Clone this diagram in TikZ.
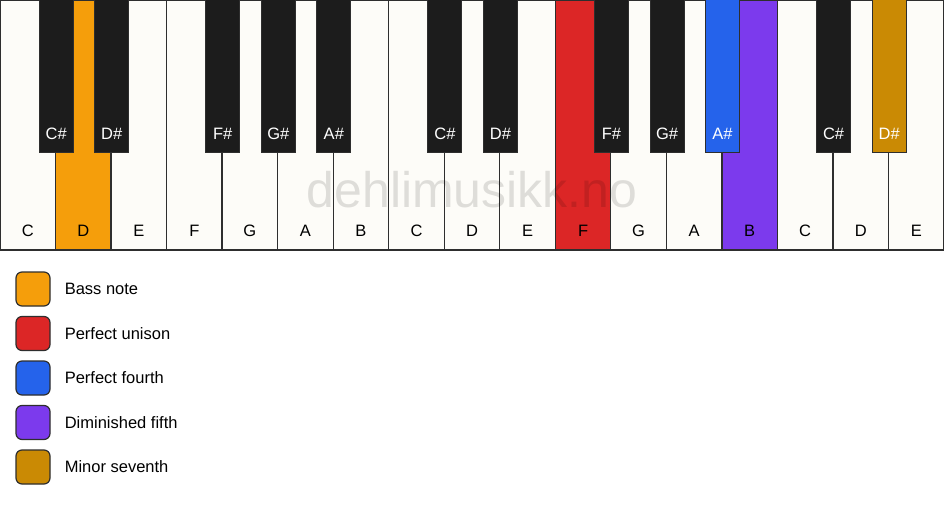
\documentclass[tikz,border=0pt]{standalone}
\usepackage{fontspec}
\setmainfont{Liberation Sans}
\usetikzlibrary{positioning}
\definecolor{ivory}{HTML}{FDFCF8}
\definecolor{ebony}{HTML}{1C1C1C}
\definecolor{keyline}{HTML}{2E2E2E}
\definecolor{bassnote}{HTML}{F59E0B}
\definecolor{unison}{HTML}{DC2626}
\definecolor{fourth}{HTML}{2563EB}
\definecolor{dimfifth}{HTML}{7C3AED}
\definecolor{minorsev}{HTML}{CA8A04}
\begin{document}
\begin{tikzpicture}[x=1pt, y=1pt, on grid, node distance=55.53pt,
    whitekey/.style={rectangle, draw=keyline, fill=ivory, line width=1.3pt, minimum width=55.53pt, minimum height=250pt, inner sep=0pt},
    blackkey/.style={rectangle, draw=keyline, fill=ebony, line width=1pt, minimum width=34pt, minimum height=153pt, inner sep=0pt, anchor=north},
    keylabel/.style={anchor=base, yshift=14pt, font=\fontsize{16.5}{16.5}\selectfont},
    legendbox/.style={rectangle, rounded corners=6pt, draw=keyline, line width=1.2pt, minimum size=34pt, inner sep=0pt},
    legendtext/.style={anchor=west, inner sep=0pt, text height=11.8pt, text depth=0pt, font=\fontsize{16.5}{16.5}\selectfont},
    watermark/.style={anchor=base, text=black, text opacity=0.12, font=\fontsize{50}{50}\selectfont}]
        \fill[white] (0,0) rectangle (944,-506);
        \useasboundingbox (0,0) rectangle (944,-506);
        % white keys
        \node[whitekey, label={[keylabel]south:C}]                 (c1) at (27.765,-125) {};
        \node[whitekey, fill=bassnote, label={[keylabel]south:D}]  (d1) [right of=c1]  {};
        \node[whitekey, label={[keylabel]south:E}]                 (e1) [right of=d1]  {};
        \node[whitekey, label={[keylabel]south:F}]                 (f1) [right of=e1]  {};
        \node[whitekey, label={[keylabel]south:G}]                 (g1) [right of=f1]  {};
        \node[whitekey, label={[keylabel]south:A}]                 (a1) [right of=g1]  {};
        \node[whitekey, label={[keylabel]south:B}]                 (b1) [right of=a1]  {};
        \node[whitekey, label={[keylabel]south:C}]                 (c2) [right of=b1]  {};
        \node[whitekey, label={[keylabel]south:D}]                 (d2) [right of=c2]  {};
        \node[whitekey, label={[keylabel]south:E}]                 (e2) [right of=d2]  {};
        \node[whitekey, fill=unison, label={[keylabel]south:F}]    (f2) [right of=e2]  {};
        \node[whitekey, label={[keylabel]south:G}]                 (g2) [right of=f2]  {};
        \node[whitekey, label={[keylabel]south:A}]                 (a2) [right of=g2]  {};
        \node[whitekey, fill=dimfifth, label={[keylabel]south:B}]  (b2) [right of=a2]  {};
        \node[whitekey, label={[keylabel]south:C}]                 (c3) [right of=b2]  {};
        \node[whitekey, label={[keylabel]south:D}]                 (d3) [right of=c3]  {};
        \node[whitekey, label={[keylabel]south:E}]                 (e3) [right of=d3]  {};
        % black keys
        \node[blackkey, label={[keylabel, text=white]south:C\#}]                (cs1) at (c1.north east) {};
        \node[blackkey, label={[keylabel, text=white]south:D\#}]                (ds1) at (d1.north east) {};
        \node[blackkey, label={[keylabel, text=white]south:F\#}]                (fs1) at (f1.north east) {};
        \node[blackkey, label={[keylabel, text=white]south:G\#}]                (gs1) at (g1.north east) {};
        \node[blackkey, label={[keylabel, text=white]south:A\#}]                (as1) at (a1.north east) {};
        \node[blackkey, label={[keylabel, text=white]south:C\#}]                (cs2) at (c2.north east) {};
        \node[blackkey, label={[keylabel, text=white]south:D\#}]                (ds2) at (d2.north east) {};
        \node[blackkey, label={[keylabel, text=white]south:F\#}]                (fs2) at (f2.north east) {};
        \node[blackkey, label={[keylabel, text=white]south:G\#}]                (gs2) at (g2.north east) {};
        \node[blackkey, fill=fourth, label={[keylabel, text=white]south:A\#}]   (as2) at (a2.north east) {};
        \node[blackkey, label={[keylabel, text=white]south:C\#}]                (cs3) at (c3.north east) {};
        \node[blackkey, fill=minorsev, label={[keylabel, text=white]south:D\#}] (ds3) at (d3.north east) {};
        \node[watermark] (mark) at (472,-207) {dehlimusikk.no};
        % legend
        \node[legendbox, fill=bassnote] (bass)   at (33,-289)         {};
        \node[legendbox, fill=unison]   (uni)    [below=44.5pt of bass] {};
        \node[legendbox, fill=fourth]   (fourth) [below=44.5pt of uni]  {};
        \node[legendbox, fill=dimfifth] (dim)    [below=44.5pt of fourth] {};
        \node[legendbox, fill=minorsev] (minor)  [below=44.5pt of dim]  {};
        \node[legendtext] (bass text)   at ([xshift=14pt]bass.east)   {Bass note};
        \node[legendtext] (uni text)    at ([xshift=14pt]uni.east)    {Perfect unison};
        \node[legendtext] (fourth text) at ([xshift=14pt]fourth.east) {Perfect fourth};
        \node[legendtext] (dim text)    at ([xshift=14pt]dim.east)    {Diminished fifth};
        \node[legendtext] (minor text)  at ([xshift=14pt]minor.east)  {Minor seventh};
\end{tikzpicture}
\end{document}
